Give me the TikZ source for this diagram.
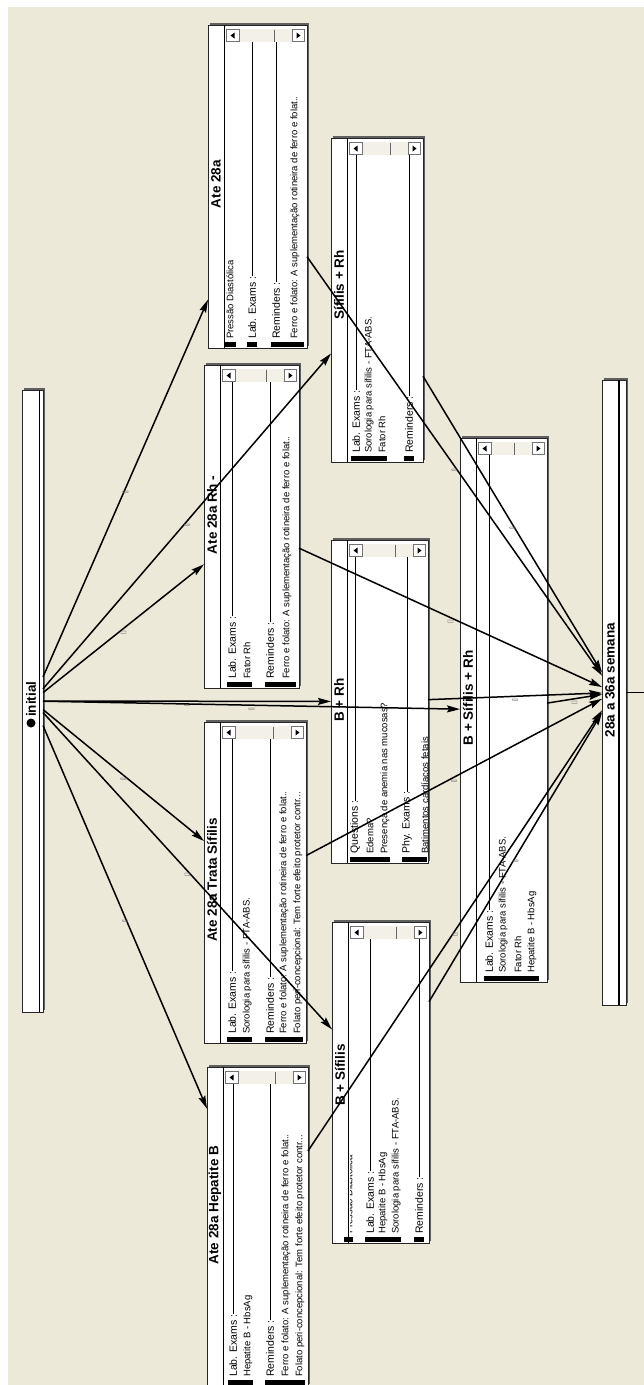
\documentclass[tikz,border=0pt]{standalone}
\usepackage{fontspec}
\setmainfont{Liberation Sans}
\usetikzlibrary{arrows.meta}
\definecolor{bg}{HTML}{ECE9D8}
\definecolor{sbc}{HTML}{F3F1E7}
\definecolor{shd}{HTML}{606060}
\tikzset{
  frame/.style={draw=black!85, line width=0.9pt, fill=white, inner sep=0pt, outer sep=0pt, rectangle},
  ttl/.style={font=\fontsize{13.5}{14}\selectfont\bfseries, rotate=90, inner sep=0pt},
  itm/.style={font=\fontsize{9.5}{10}\selectfont, rotate=90, anchor=west, inner sep=0pt},
  hdr/.style={font=\fontsize{10.5}{11}\selectfont, rotate=90, anchor=west, inner sep=0pt},
  edge/.style={line width=1.5pt, -{Stealth[length=13pt,width=7pt,inset=2pt]}},
  lbl/.style={font=\fontsize{6}{6}\selectfont, text=black!55, rotate=90, anchor=east, inner sep=1.5pt},
  gline/.style={line width=0.7pt},
  sepline/.style={line width=1.6pt},
}
\newcommand{\wbox}[5]{%
  \fill[shd] ({#2+2},{#3-2}) rectangle ({#4+2},{#5-2});
  \node[frame, minimum width={(#4-#2)*1pt}, minimum height={(#5-#3)*1pt}] (#1) at ({(#2+#4)/2},{(#3+#5)/2}) {};
  \draw[sepline] ({#2+16.5},#3) -- ({#2+16.5},#5);
  \fill[sbc] ({#2+18},{#3+4}) rectangle ({#4-2},{#3+17});
  \draw[black!55, line width=0.4pt, fill=white] ({#2+18.5},{#3+4.5}) rectangle ({#2+31},{#3+16.5});
  \fill ({#2+22.5},{#3+10.5}) -- ({#2+26.5},{#3+7.5}) -- ({#2+26.5},{#3+13.5}) -- cycle;
  \draw[black!55, line width=0.4pt, fill=white] ({#4-15},{#3+4.5}) rectangle ({#4-2.5},{#3+16.5});
  \fill ({#4-6.5},{#3+10.5}) -- ({#4-10.5},{#3+7.5}) -- ({#4-10.5},{#3+13.5}) -- cycle;
  \draw[black!60, line width=0.8pt] ({#4-33},{#3+4.5}) -- ({#4-33},{#3+16.5});
}
\newcommand{\itx}[3]{\node[itm] (it#1x#2) at (#1,#2) {#3};}
\newcommand{\hd}[4]{\node[hdr] (hd#1x#2) at (#1,#2) {#3}; \draw[gline] (hd#1x#2.east) -- (#1,#4);}
\newcommand{\gb}[3]{\fill ({#1},{#3-6}) rectangle ({#2},{#3-1});}
\begin{document}
\begin{tikzpicture}[x=1pt,y=-1pt]
\useasboundingbox (0,0) rectangle (644,1385);
\fill[white] (0,0) rectangle (644,1385);
\fill[bg] (8,7) rectangle (644,1385);

% initial bar
\fill[shd] (24,388) rectangle (45,1010);
\node[frame, minimum width=21pt, minimum height=622pt] (init) at (32.5,701) {};
\draw[sepline] (39.5,390) -- (39.5,1012);
\fill (31,723) circle (4.5);
\node[ttl, anchor=west] (initlbl) at (31,717) {initial};

% target bar
\fill[shd] (604,378) rectangle (628,1003);
\node[frame, minimum width=24pt, minimum height=625pt] (sem) at (614,692.5) {};
\draw[sepline] (619,380) -- (619,1005);
\node[ttl] (semlbl) at (610,680) {28a a 36a semana};
\coordinate (out) at (644,692.5);
\draw[line width=1.5pt] (sem) -- (out);

% Ate 28a
\wbox{ate28}{208}{25}{307}{348}
\node[ttl] (t1) at (216,184) {Ate 28a};
\itx{230}{339}{Pressão Diastólica}
\hd{252}{339}{Lab. Exams :}{42}
\hd{276}{339}{Reminders :}{42}
\itx{295}{339}{Ferro e folato: A suplementação rotineira de ferro e folat..}
\gb{225}{236}{348}\gb{247}{257}{348}\gb{271}{304}{348}

% Sifilis + Rh
\wbox{sifrh}{331}{138}{423}{462}
\node[ttl] (t2) at (339,285) {Sífilis + Rh};
\hd{356}{453}{Lab. Exams :}{155}
\itx{369}{453}{Sorologia para sífilis - FTA-ABS.}
\itx{382}{453}{Fator Rh}
\hd{409}{453}{Reminders :}{155}
\gb{351}{387}{462}\gb{404}{414}{462}

% Ate 28a Rh -
\wbox{rhneg}{204}{365}{299}{688}
\node[ttl] (t3) at (212,515) {Ate 28a Rh -};
\hd{232}{679}{Lab. Exams :}{382}
\itx{247}{679}{Fator Rh}
\hd{270}{679}{Reminders :}{382}
\itx{287}{679}{Ferro e folato: A suplementação rotineira de ferro e folat..}
\gb{227}{252}{688}\gb{265}{296}{688}

% Ate 28a Trata Sifilis
\wbox{trata}{204}{722}{306}{1043}
\node[ttl] (t4) at (212,880) {Ate 28a Trata Sífilis};
\hd{232}{1034}{Lab. Exams :}{739}
\itx{247}{1034}{Sorologia para sífilis - FTA-ABS.}
\hd{270}{1034}{Reminders :}{739}
\itx{284}{1034}{Ferro e folato: A suplementação rotineira de ferro e folat..}
\itx{298}{1034}{Folato peri-concepcional: Tem forte efeito protetor contr...}
\gb{227}{252}{1043}\gb{265}{303}{1043}

% B + Rh
\wbox{brh}{331}{540}{428}{863}
\node[ttl] (t5) at (339,700) {B + Rh};
\hd{355}{854}{Questions :}{557}
\itx{370}{854}{Edema?}
\itx{385}{854}{Presença de anemia nas mucosas?}
\hd{407}{854}{Phy. Exams :}{557}
\begin{scope}
\clip (348,560) rectangle (427,862);
\itx{425}{854}{Batimentos cardíacos fetais}
\end{scope}
\gb{350}{390}{863}\gb{402}{427}{863}

% B + Sifilis + Rh
\wbox{bsrh}{460}{438}{547}{982}
\node[ttl] (t6) at (468,698) {B + Sífilis + Rh};
\hd{489}{973}{Lab. Exams :}{455}
\itx{503}{973}{Sorologia para sífilis - FTA-ABS.}
\itx{518}{973}{Fator Rh}
\itx{532}{973}{Hepatite B - HbsAg}
\gb{484}{539}{982}

% B + Sifilis
\wbox{bsif}{332}{922}{429}{1243}
\node[ttl] (t7) at (340,1075) {B + Sífilis};
\begin{scope}
\clip (350.5,940) rectangle (428,1242);
\itx{349}{1234}{Pressão Diastólica}
\end{scope}
\hd{370}{1234}{Lab. Exams :}{939}
\itx{383}{1234}{Hepatite B - HbsAg}
\itx{396}{1234}{Sorologia para sífilis - FTA-ABS.}
\hd{419}{1234}{Reminders :}{939}
\gb{344}{353}{1243}\gb{365}{401}{1243}\gb{414}{424}{1243}

% Ate 28a Hepatite B
\wbox{hepb}{207}{1067}{308}{1386}
\node[ttl] (t8) at (215,1205) {Ate 28a Hepatite B};
\hd{233}{1377}{Lab. Exams :}{1084}
\itx{248}{1377}{Hepatite B - HbsAg}
\hd{270}{1377}{Reminders :}{1084}
\itx{286}{1377}{Ferro e folato: A suplementação rotineira de ferro e folat..}
\itx{300}{1377}{Folato peri-concepcional: Tem forte efeito protetor contr...}
\gb{228}{253}{1386}\gb{265}{305}{1386}

% edges
\foreach \t in {ate28,sifrh,rhneg,brh,bsrh,trata,bsif,hepb}
  \draw[edge] (init) -- node[lbl] {[]} (\t);
\foreach \s in {ate28,sifrh,rhneg,brh,bsrh,trata,bsif,hepb}
  \draw[edge] (\s) -- node[lbl] {[]} (sem);
\end{tikzpicture}
\end{document}
